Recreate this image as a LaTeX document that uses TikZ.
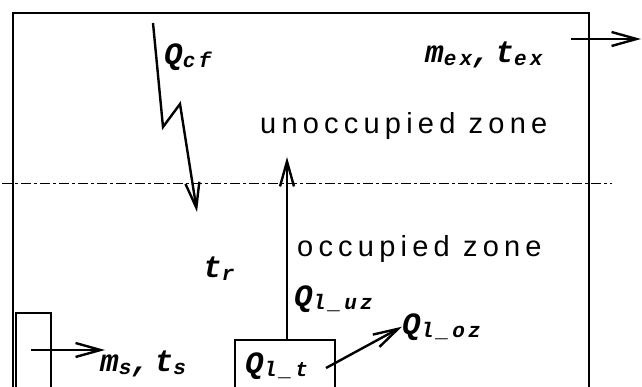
\documentclass[tikz,border=0pt]{standalone}
\usepackage{fontspec}
\setmainfont{Liberation Sans}
\newfontfamily\zonefont[LetterSpace=18]{Liberation Sans}
\newfontfamily\lblfont[LetterSpace=15]{Liberation Mono}
\usetikzlibrary{arrows.meta}
\newcommand{\lsub}[1]{\raisebox{-3pt}{\fontsize{21}{21}\selectfont #1}}

\begin{document}
\begin{tikzpicture}[x=1pt, y=-1pt,
  wall/.style={line width=2.5pt},
  flow/.style={-{Straight Barb[length=25pt,width=14pt]}, line width=2.4pt},
  zone/.style={anchor=base west, inner sep=0pt, font=\zonefont\fontsize{29}{29}\selectfont},
  lbl/.style={anchor=base west, inner sep=0pt, font=\lblfont\bfseries\itshape\fontsize{31}{31}\selectfont},
  divide/.style={line width=1pt, dash pattern=on 10pt off 3pt on 3pt off 3pt}
]
\useasboundingbox (0,0) rectangle (642,387);
% room, divider and the two sources
\draw[wall] (13,387) -- (13,13) -- (589,13) -- (589,387);
\draw[divide] (2,184) -- (612,184);
\draw[wall] (16,387) -- (16,313) -- (51,313) -- (51,387);
\draw[wall] (235,387) -- (235,340) -- (335,340) -- (335,387);
% labels
\node[zone] (unocc) at (260,134) {unoccupied zone};
\node[zone] (occ) at (297,257) {occupied zone};
\node[lbl] (qcf) at (164,65) {Q\lsub{cf}};
\node[lbl] (mex) at (425,63) {m\lsub{ex},t\lsub{ex}};
\node[lbl] (tr) at (203,277) {t\lsub{r}};
\node[lbl] (quz) at (294,306) {Q\lsub{l\_uz}};
\node[lbl] (qoz) at (402,334) {Q\lsub{l\_oz}};
\node[lbl] (qlt) at (245,373) {Q\lsub{l\_t}};
\node[lbl] (mst) at (100,371) {m\lsub{s},t\lsub{s}};
% end points of the flows
\coordinate (cfin) at (153,23);
\coordinate (cfa) at (163,127);
\coordinate (cfb) at (180,104);
\coordinate (cfout) at (197,212);
\coordinate (upin) at (287,340);
\coordinate (upout) at (287,157);
\coordinate (ozin) at (326,368);
\coordinate (supin) at (31,350);
\coordinate (supout) at (105,350);
\coordinate (exin) at (571,39);
\coordinate (exout) at (641,39);
\draw[flow] (cfin) -- (cfa) -- (cfb) -- (cfout);
\draw[flow] (upin) -- (upout);
\draw[flow] (ozin) -- (qoz.west);
\draw[flow] (supin) -- (supout);
\draw[flow] (exin) -- (exout);
\end{tikzpicture}
\end{document}
